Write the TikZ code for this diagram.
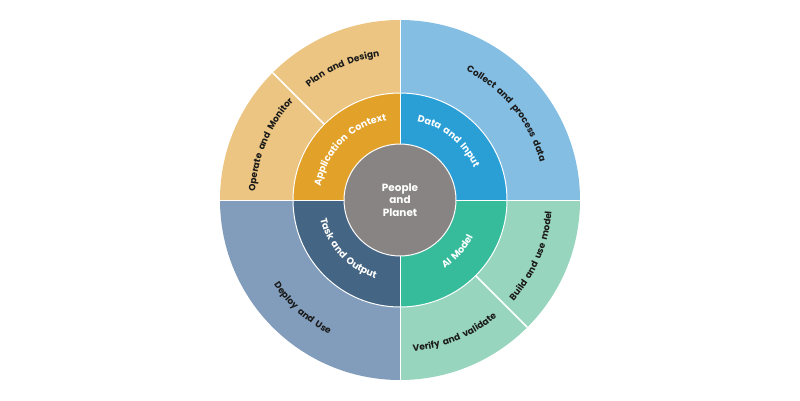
\documentclass[tikz,border=0pt]{standalone}
\usepackage{fontspec}
\setmainfont{Poppins}
\usetikzlibrary{decorations.text}
\definecolor{tanL}{HTML}{EBC581}
\definecolor{goldM}{HTML}{E2A128}
\definecolor{blueL}{HTML}{85BEE3}
\definecolor{blueM}{HTML}{2A9FD6}
\definecolor{mintL}{HTML}{98D5BF}
\definecolor{greenM}{HTML}{36BC9A}
\definecolor{slateL}{HTML}{829DBB}
\definecolor{slateM}{HTML}{446584}
\definecolor{grayC}{HTML}{888483}
\definecolor{txtD}{HTML}{1A1A1A}
\newcommand\arctext[6]{%
  \path[decorate,decoration={text along path,text align=center,text color=#4,
    text={|\bfseries\fontsize{#6}{10}\selectfont|#5}}]
    (#2:#1) arc[start angle=#2,end angle=#3,radius=#1];}
\tikzset{
  sep/.style={draw=white,line width=1pt},
  divider/.style={draw=white,line width=1.6pt}
}
\begin{document}
\begin{tikzpicture}[x=1bp,y=1bp]
\useasboundingbox (0,0) rectangle (800,400);
\begin{scope}[shift={(400,200)}]
% outer ring sectors
\fill[tanL]   (0,0) -- (90:180)  arc[start angle=90,end angle=180,radius=180] -- cycle;
\fill[blueL]  (0,0) -- (0:180)   arc[start angle=0,end angle=90,radius=180] -- cycle;
\fill[mintL]  (0,0) -- (-90:180) arc[start angle=-90,end angle=0,radius=180] -- cycle;
\fill[slateL] (0,0) -- (180:180) arc[start angle=180,end angle=270,radius=180] -- cycle;
% outer dividers
\draw[sep] (90:107) -- (90:180);
\draw[sep] (180:107) -- (180:180);
\draw[sep] (0:107) -- (0:180);
\draw[sep] (270:107) -- (270:180);
\draw[divider] (135:107) -- (135:180);
\draw[divider] (-45:107) -- (-45:180);
% middle ring sectors
\fill[goldM]  (0,0) -- (90:107)  arc[start angle=90,end angle=180,radius=107] -- cycle;
\fill[blueM]  (0,0) -- (0:107)   arc[start angle=0,end angle=90,radius=107] -- cycle;
\fill[greenM] (0,0) -- (-90:107) arc[start angle=-90,end angle=0,radius=107] -- cycle;
\fill[slateM] (0,0) -- (180:107) arc[start angle=180,end angle=270,radius=107] -- cycle;
\draw[sep] (0,0) circle[radius=107];
\draw[sep] (90:56) -- (90:107);
\draw[sep] (180:56) -- (180:107);
\draw[sep] (0:56) -- (0:107);
\draw[sep] (270:56) -- (270:107);
% centre
\node[circle,fill=grayC,draw=white,line width=1pt,minimum size=112bp,inner sep=0pt,
  text=white,font=\bfseries\fontsize{10.5}{12.5}\selectfont,align=center] (c) at (0,0)
  {People\\and\\Planet};
% middle ring texts
\arctext{80.5}{180}{90}{white}{Application{\hspace{3.5bp}}Context}{9.6}
\arctext{80.5}{95.5}{5.5}{white}{Data{\hspace{3.5bp}}and{\hspace{3.5bp}}Input}{9.6}
\arctext{82}{178}{268}{white}{Task{\hspace{3.5bp}}and{\hspace{3.5bp}}Output}{9.6}
\arctext{82}{-87}{3}{white}{AI{\hspace{3.5bp}}Model}{9.6}
% outer ring texts
\arctext{145}{158.5}{68.5}{txtD}{Plan{\hspace{3.5bp}}and{\hspace{3.5bp}}Design}{9.1}
\arctext{145}{202}{112}{txtD}{Operate{\hspace{3.5bp}}and{\hspace{3.5bp}}Monitor}{9.1}
\arctext{145}{99}{-21}{txtD}{Collect{\hspace{3.5bp}}and{\hspace{3.5bp}}process{\hspace{3.5bp}}data}{9.1}
\arctext{152}{183}{273}{txtD}{Deploy{\hspace{3.5bp}}and{\hspace{3.5bp}}Use}{9.1}
\arctext{152}{-83}{37}{txtD}{Build{\hspace{3.5bp}}and{\hspace{3.5bp}}use{\hspace{3.5bp}}model}{9.1}
\arctext{152}{-127.7}{-7.7}{txtD}{Verify{\hspace{3.5bp}}and{\hspace{3.5bp}}validate}{9.1}
\end{scope}
\end{tikzpicture}
\end{document}
